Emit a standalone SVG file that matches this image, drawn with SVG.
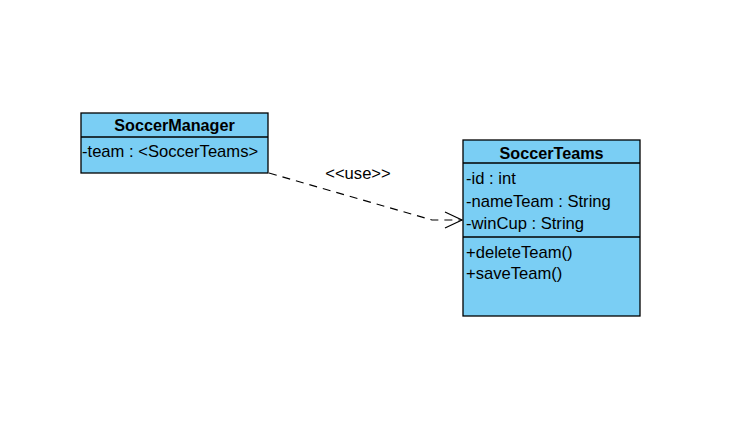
<svg xmlns="http://www.w3.org/2000/svg" width="750" height="426" viewBox="0 0 750 426">
<style>
.box{fill:#7acef4;stroke:#000;stroke-width:1.3}
.ln{stroke:#000;stroke-width:1.3}
.t{font-family:"Liberation Sans",Arial,sans-serif;font-size:16.6px;fill:#000}
.h{font-weight:bold;font-size:16.2px;text-anchor:middle}
</style>
<defs>
<marker id="open" markerWidth="20" markerHeight="20" refX="18" refY="9" orient="auto" markerUnits="userSpaceOnUse">
<path d="M1,1 L18,9 L1,17" fill="none" stroke="#000" stroke-width="1.2"/>
</marker>
</defs>
<rect width="750" height="426" fill="#fff"/>
<g id="connectors">
<path d="M269,173 L432,220 L462,220" fill="none" stroke="#000" stroke-width="1.2" stroke-dasharray="8,6" marker-end="url(#open)"/>
<text class="t" x="358" y="179" text-anchor="middle">&lt;&lt;use&gt;&gt;</text>
</g>
<g id="SoccerManager">
<rect class="box" x="81" y="113" width="187" height="60"/>
<line class="ln" x1="81" y1="137" x2="268" y2="137"/>
<text class="t h" x="174.5" y="131">SoccerManager</text>
<text class="t" x="82" y="157">-team : &lt;SoccerTeams&gt;</text>
</g>
<g id="SoccerTeams">
<rect class="box" x="463" y="140" width="177" height="176"/>
<line class="ln" x1="463" y1="163" x2="640" y2="163"/>
<line class="ln" x1="463" y1="237" x2="640" y2="237"/>
<text class="t h" x="551.5" y="159">SoccerTeams</text>
<text class="t" x="466" y="184">-id : int</text>
<text class="t" x="466" y="207">-nameTeam : String</text>
<text class="t" x="466" y="229">-winCup : String</text>
<text class="t" x="466" y="258">+deleteTeam()</text>
<text class="t" x="466" y="279">+saveTeam()</text>
</g>
</svg>
